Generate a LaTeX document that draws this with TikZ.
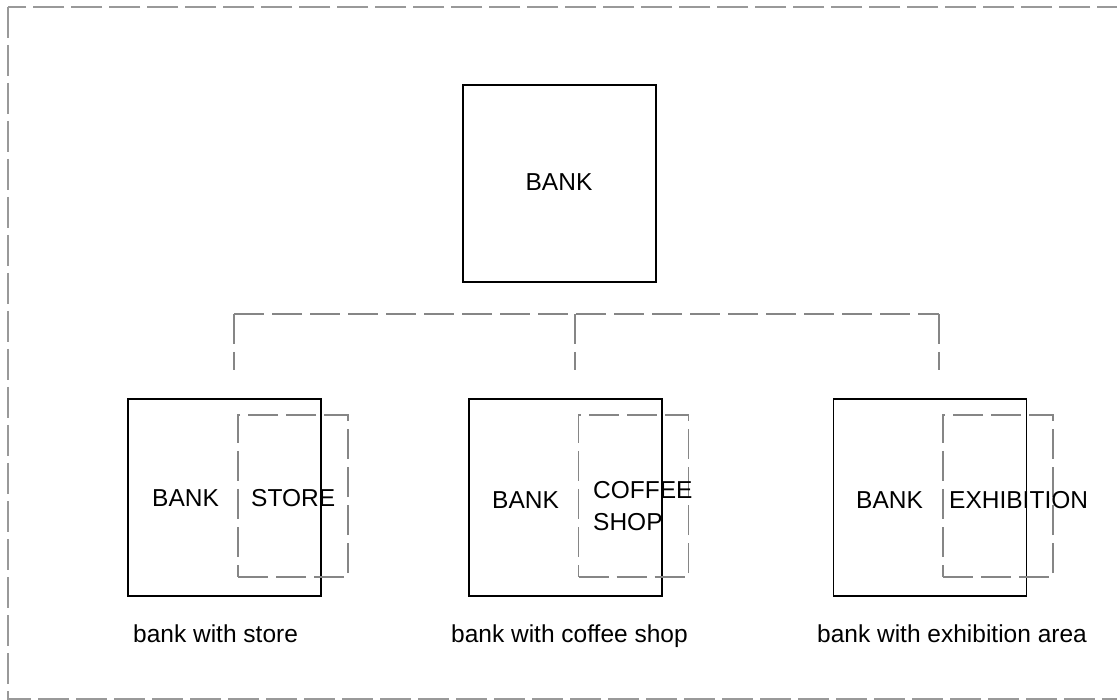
\documentclass[tikz,border=0pt]{standalone}
\usepackage{fontspec}
\setmainfont{Liberation Sans}
\begin{document}
\begin{tikzpicture}[x=1pt,y=-1pt,
  bankbox/.style={draw=black,line width=1.3pt,minimum width=193pt,minimum height=197pt,inner sep=0pt},
  areabox/.style={draw=gray!95,line width=1.1pt,dash pattern=on 30pt off 8pt,minimum width=110pt,minimum height=162pt,inner sep=0pt},
  link/.style={draw=gray!95,line width=1.1pt,dash pattern=on 30pt off 8pt},
  frame/.style={draw=gray!80,line width=1.4pt,dash pattern=on 31pt off 7pt},
  lbl/.style={font=\fontsize{24.5pt}{30pt}\selectfont,inner sep=0pt,anchor=base west}]
\useasboundingbox (0,0) rectangle (1117,700);
\begin{scope}
\clip (0,0) rectangle (1117,700);
\draw[frame] (8,7) rectangle (1130,699);
\end{scope}
% top bank
\node[bankbox] (top) at (559.5,183.5) {};
\node[lbl,anchor=base] (toplbl) at (559,191) {BANK};
% lower bank boxes
\node[bankbox] (b1) at (224.5,497.5) {};
\node[bankbox] (b2) at (565.5,497.5) {};
\node[bankbox] (b3) at (930,497.5) {};
% dashed overlapping areas
\node[areabox] (a1) at (293,496) {};
\node[areabox] (a2) at (633.5,496) {};
\node[areabox] (a3) at (998,496) {};
% connector tree
\coordinate (j1) at (234,314);
\coordinate (j2) at (575,314);
\coordinate (j3) at (939,314);
\coordinate (e1) at (234,370);
\coordinate (e2) at (575,370);
\coordinate (e3) at (939,370);
\draw[link] (j1) -- (j3);
\draw[link] (j1) -- (e1);
\draw[link] (j2) -- (e2);
\draw[link] (j3) -- (e3);
% labels
\node[lbl] (t1a) at (152,507) {BANK};
\node[lbl] (t1b) at (251,507) {STORE};
\node[lbl] (t2a) at (492,508) {BANK};
\node[lbl] (t2b) at (593,499) {COFFEE};
\node[lbl] (t2c) at (593,530) {SHOP};
\node[lbl] (t3a) at (856,508) {BANK};
\node[lbl] (t3b) at (949,508) {EXHIBITION};
% captions
\node[lbl] (c1) at (133,642) {bank with store};
\node[lbl] (c2) at (451,642) {bank with coffee shop};
\node[lbl] (c3) at (817,642) {bank with exhibition area};
\end{tikzpicture}
\end{document}
